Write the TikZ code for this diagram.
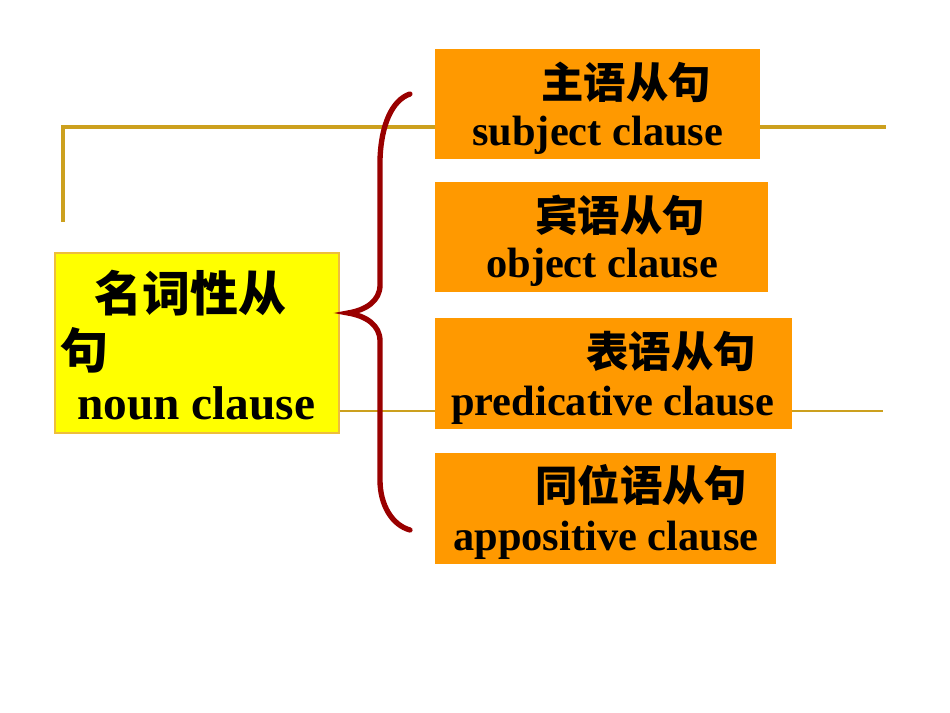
\documentclass[tikz,border=0pt]{standalone}
\usepackage{fontspec}
\setmainfont{Liberation Serif}
\newfontfamily\cjk{Noto Sans CJK SC}
\usetikzlibrary{fit}
\definecolor{goldline}{RGB}{204,160,30}
\definecolor{boxorange}{RGB}{255,153,0}
\definecolor{boxyellow}{RGB}{255,255,0}
\definecolor{yborder}{RGB}{238,190,60}
\definecolor{bracered}{RGB}{153,0,0}
\tikzset{
  gold/.style={draw=goldline},
  obox/.style={rectangle, fill=boxorange, draw=none, inner sep=0pt},
  ybox/.style={rectangle, fill=boxyellow, draw=yborder, line width=0.8pt, inner sep=0pt},
  en/.style={anchor=base west, inner sep=0pt, font=\bfseries\fontsize{31.8pt}{36pt}\selectfont},
  zh/.style={anchor=base west, inner sep=0pt, font=\cjk\bfseries\fontsize{31.8pt}{36pt}\selectfont},
  enbig/.style={anchor=base west, inner sep=0pt, font=\bfseries\fontsize{35.5pt}{40pt}\selectfont},
  zhbig/.style={anchor=base west, inner sep=0pt, font=\cjk\bfseries\fontsize{36pt}{40pt}\selectfont},
  bracestyle/.style={draw=bracered, line width=4pt, line cap=round}
}
\begin{document}
\begin{tikzpicture}[x=0.75pt,y=-0.75pt]
\useasboundingbox (0,0) rectangle (950,713);
% connector coordinates
\coordinate (tl) at (63,222);
\coordinate (tc) at (63,127);
\coordinate (tr) at (886,127);
\coordinate (lr) at (883,411);
% yellow box
\node[ybox, fit={(55,253) (339,433)}] (yb) {};
% gold lines (behind orange boxes)
\draw[gold, line width=2.4pt] (tl) -- (tc) -- (tr);
\draw[gold, line width=1.5pt] (yb.east |- lr) -- (lr);
% orange boxes
\node[obox, fit={(435,49) (760,159)}] (b1) {};
\node[obox, fit={(435,182) (768,292)}] (b2) {};
\node[obox, fit={(435,318) (792,429)}] (b3) {};
\node[obox, fit={(435,453) (776,564)}] (b4) {};
% texts in orange boxes
\node[zh] (t1z) at (541,99) {主语从句};
\node[en] (t1e) at (472,146) {subject clause};
\node[zh] (t2z) at (535,232) {宾语从句};
\node[en] (t2e) at (486,277) {object clause};
\node[zh] (t3z) at (586,367) {表语从句};
\node[en] (t3e) at (451,415) {predicative clause};
\node[zh] (t4z) at (535,501) {同位语从句};
\node[en] (t4e) at (453,550) {appositive clause};
% texts in yellow box
\node[zhbig] (y1) at (94,311) {名词性从};
\node[zhbig] (y2) at (60,368) {句};
\node[enbig] (y3) at (77,419) {noun clause};
% brace
\draw[bracestyle] (410,94) .. controls (392,100) and (381,125) .. (380,160)
  -- (380,285) .. controls (380,301) and (366,310) .. (348,313)
  .. controls (366,316) and (380,325) .. (380,341)
  -- (380,480) .. controls (380,505) and (392,525) .. (410,530);
\end{tikzpicture}
\end{document}
